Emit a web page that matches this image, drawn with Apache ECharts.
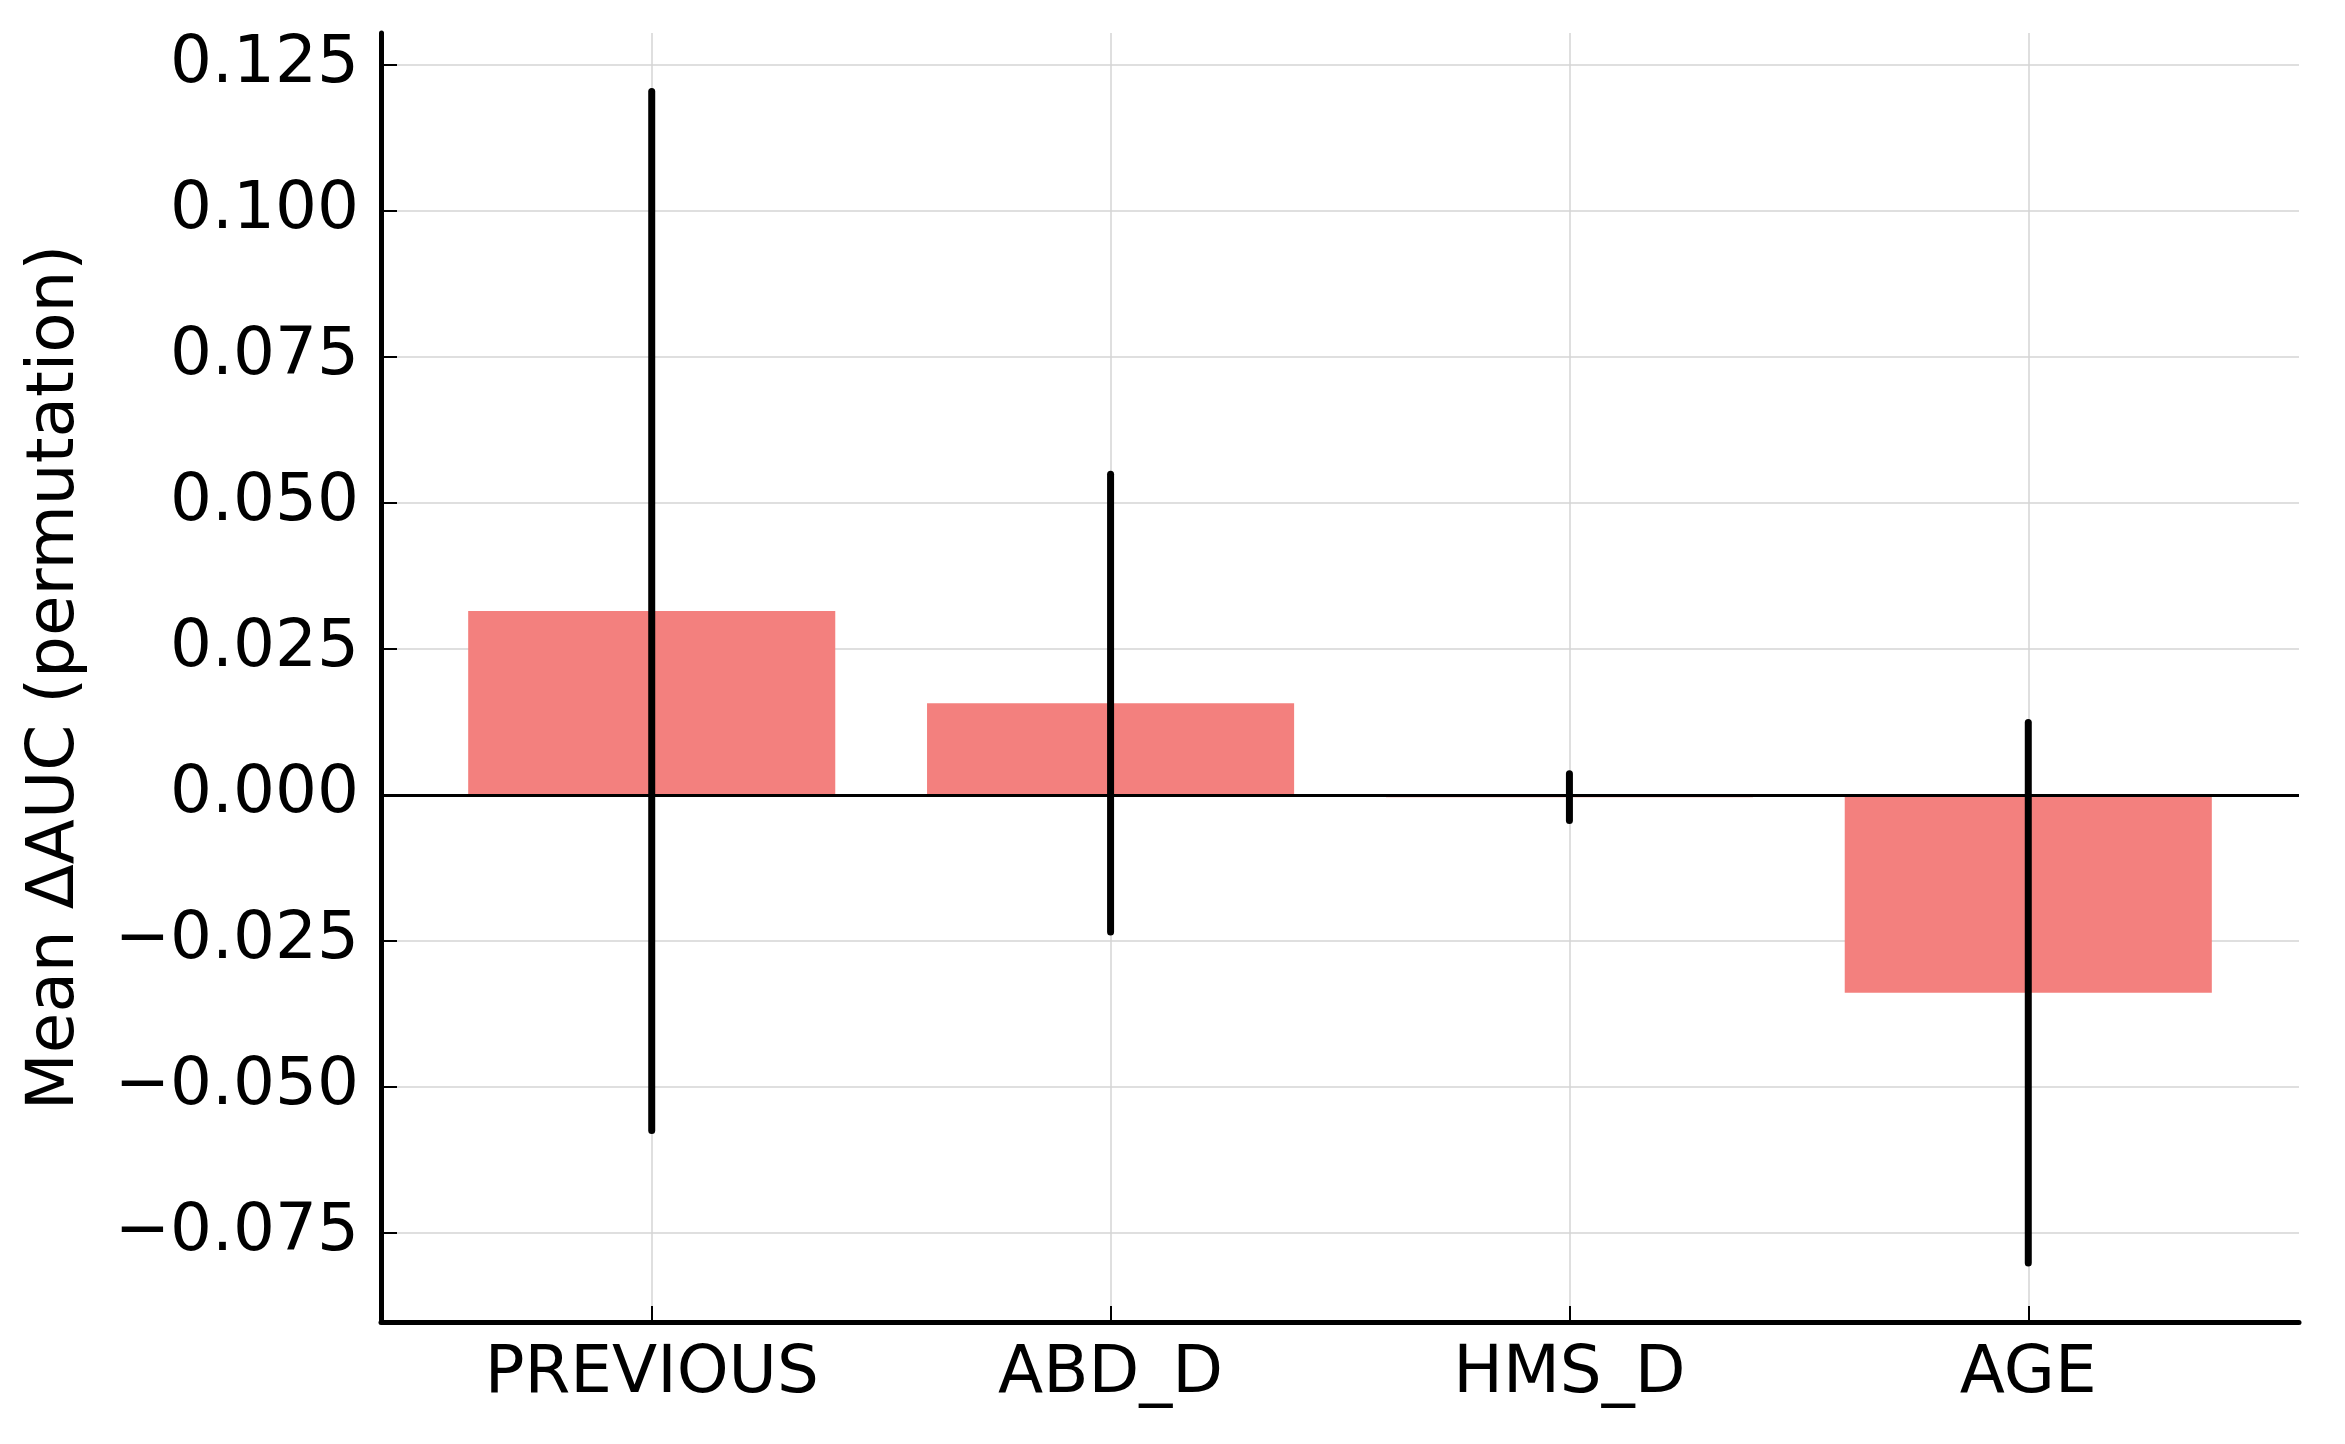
<!DOCTYPE html>
<html>
<head>
<meta charset="utf-8">
<style>
  html, body { margin: 0; padding: 0; background: #fff; }
  #main { width: 2345px; height: 1444px; }
</style>
<script src="https://cdn.jsdelivr.net/npm/echarts@6/dist/echarts.min.js"></script>
</head>
<body>
<div id="main"></div>
<script>
// permutation importance: mean delta AUC with std error bars
var categories = ['PREVIOUS', 'ABD_D', 'HMS_D', 'AGE'];
var meanDelta = [0.0315, 0.0157, -0.0004, -0.0339];
var stdDelta = [0.0890, 0.0392, 0.0040, 0.0463];
var yTicks = [-0.075, -0.05, -0.025, 0, 0.025, 0.05, 0.075, 0.1, 0.125];
var xTicks = [0, 1, 2, 3];

var font = 'DejaVu Sans';
var barData = categories.map(function (c, i) { return [i, meanDelta[i]]; });
var errData = categories.map(function (c, i) {
  return [i, meanDelta[i] + stdDelta[i], meanDelta[i] - stdDelta[i]];
});

var myChart = echarts.init(document.getElementById('main'));
myChart.setOption({
  animation: false,
  backgroundColor: '#ffffff',
  grid: { left: 381, right: 46, top: 33, bottom: 122 },
  xAxis: {
    type: 'value',
    min: -0.59,
    max: 3.59,
    axisLine: { onZero: false, lineStyle: { color: '#000', width: 5 } },
    axisTick: { inside: true, length: 16, customValues: xTicks, lineStyle: { color: '#000', width: 2 } },
    axisLabel: {
      customValues: xTicks,
      margin: 20,
      color: '#000',
      fontFamily: font,
      fontSize: 66,
      formatter: function (v) { return categories[v]; }
    },
    splitLine: { show: true, lineStyle: { color: '#d4d4d4', width: 1.5 } }
  },
  yAxis: {
    type: 'value',
    min: -0.0903,
    max: 0.1305,
    name: 'Mean ΔAUC (permutation)',
    nameLocation: 'middle',
    nameGap: 292,
    nameTextStyle: { color: '#000', fontFamily: font, fontSize: 66 },
    axisLine: { show: true, onZero: false, lineStyle: { color: '#000', width: 5 } },
    axisTick: { inside: true, length: 16, customValues: yTicks, lineStyle: { color: '#000', width: 2 } },
    axisLabel: {
      customValues: yTicks,
      margin: 22,
      color: '#000',
      fontFamily: font,
      fontSize: 66,
      formatter: function (v) { return v.toFixed(3).replace('-', '\u2212'); }
    },
    splitLine: { show: true, lineStyle: { color: '#d4d4d4', width: 1.5 } }
  },
  series: [{
    name: 'mean',
    type: 'bar',
    data: barData,
    barWidth: '80%',
    itemStyle: { color: '#F3807E' },
    markLine: {
      silent: true,
      symbol: 'none',
      label: { show: false },
      lineStyle: { color: '#000', width: 3, type: 'solid' },
      data: [{ yAxis: 0 }]
    }
  }, {
    name: 'std',
    type: 'custom',
    data: errData,
    z: 10,
    renderItem: function (params, api) {
      var top = api.coord([api.value(0), api.value(1)]);
      var bottom = api.coord([api.value(0), api.value(2)]);
      return {
        type: 'line',
        shape: { x1: top[0], y1: top[1], x2: bottom[0], y2: bottom[1] },
        style: { stroke: '#000', lineWidth: 7, lineCap: 'round' }
      };
    }
  }]
});
</script>
</body>
</html>
